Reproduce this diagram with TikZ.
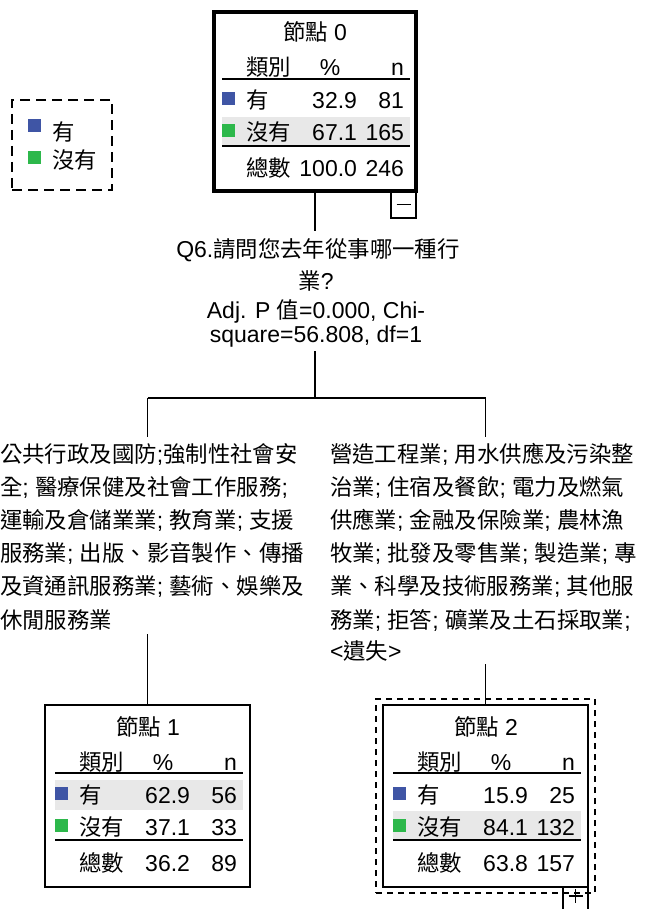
\documentclass[tikz,border=0pt]{standalone}
\usepackage{fontspec}
\usetikzlibrary{calc}
\setmainfont{Liberation Sans}
\newfontfamily\cjkfont{Noto Sans CJK TC}[Scale=0.974]
\newcommand\zh[1]{{\cjkfont #1}}
\definecolor{catblue}{RGB}{63,85,165}
\definecolor{catgreen}{RGB}{45,184,75}
\definecolor{hlgray}{RGB}{232,232,232}
\tikzset{
  txt/.style={font=\fontsize{23}{27}\selectfont, inner sep=0pt, outer sep=0pt},
  box/.style={draw, line width=1.6pt, inner sep=0pt, outer sep=0pt},
  nodebox/.style={box, minimum width=205pt, minimum height=182pt},
  rootbox/.style={box, line width=4pt, minimum width=202pt, minimum height=179pt},
  selbox/.style={draw, line width=1.3pt, dash pattern=on 6pt off 5pt, inner sep=0pt, minimum width=219pt, minimum height=194pt},
  legbox/.style={draw, line width=1.5pt, dash pattern=on 10pt off 6pt, inner sep=0pt, minimum width=100pt, minimum height=90pt},
  togbox/.style={box, minimum width=25pt, minimum height=27pt},
  conn/.style={line width=1.6pt},
  rule/.style={line width=1.6pt},
  sq/.style={inner sep=0pt, outer sep=0pt, minimum size=13pt},
}
\newcommand\settable[3]{\def\tL{#1}\def\tT{#2}\def\tid{#3}}
\newcommand\tablebody[6]{%
  \ifnum#2=1
    \fill[hlgray] ({\tL+10},{\tT+75}) rectangle ({\tL+198},{\tT+105});
  \else
    \fill[hlgray] ({\tL+10},{\tT+106}) rectangle ({\tL+198},{\tT+135});
  \fi
  \draw[rule] ({\tL+10},{\tT+68}) -- ({\tL+198},{\tT+68});
  \draw[rule] ({\tL+10},{\tT+135}) -- ({\tL+198},{\tT+135});
  \node[txt,anchor=base] (t\tid-title) at ({\tL+103},{\tT+30}) {#1};
  \node[txt,anchor=base west] (t\tid-hcat) at ({\tL+34},{\tT+65}) {\zh{類別}};
  \node[txt,anchor=base] (t\tid-hpct) at ({\tL+118},{\tT+65}) {\%};
  \node[txt,anchor=base east] (t\tid-hn) at ({\tL+192},{\tT+65}) {n};
  \node[sq,fill=catblue] (t\tid-sq1) at ({\tL+16},{\tT+88}) {};
  \node[txt,anchor=base west] (t\tid-c1) at ({\tL+34},{\tT+98}) {\zh{有}};
  \node[txt,anchor=base east] (t\tid-p1) at ({\tL+145},{\tT+98}) {#3};
  \node[txt,anchor=base east] (t\tid-n1) at ({\tL+192},{\tT+98}) {#4};
  \node[sq,fill=catgreen] (t\tid-sq2) at ({\tL+16},{\tT+120}) {};
  \node[txt,anchor=base west] (t\tid-c2) at ({\tL+34},{\tT+130}) {\zh{沒有}};
  \node[txt,anchor=base east] (t\tid-p2) at ({\tL+145},{\tT+130}) {#5};
  \node[txt,anchor=base east] (t\tid-n2) at ({\tL+192},{\tT+130}) {#6};
}
\newcommand\tabletotal[2]{%
  \node[txt,anchor=base west] (t\tid-ct) at ({\tL+34},{\tT+166}) {\zh{總數}};
  \node[txt,anchor=base east] (t\tid-pt) at ({\tL+145},{\tT+166}) {#1};
  \node[txt,anchor=base east] (t\tid-nt) at ({\tL+192},{\tT+166}) {#2};
}
\begin{document}
\begin{tikzpicture}[x=1pt,y=-1pt]
\useasboundingbox (0,0) rectangle (648,909);
\fill[white] (0,0) rectangle (648,909);
\clip (0,0) rectangle (648,909);

% legend
\node[legbox] (leg) at (62,145) {};
\node[sq,fill=catblue] (legsq1) at (34,126) {};
\node[txt,anchor=base west] (legt1) at (52,140.5) {\zh{有}};
\node[sq,fill=catgreen] (legsq2) at (34,158) {};
\node[txt,anchor=base west] (legt2) at (52,168.5) {\zh{沒有}};

% node 0
\settable{212}{11}{0}
\tablebody{\zh{節點} 0}{2}{32.9}{81}{67.1}{165}
\tabletotal{100.0}{246}
\node[rootbox] (n0) at (315,101.5) {};
\node[togbox,anchor=north east] (n0tog) at (416,191) {};
\draw[conn] ([xshift=-7pt]n0tog.center) -- ([xshift=7pt]n0tog.center);

% question
\node[txt,anchor=base] (q1) at (318,257) {Q6.\zh{請問您去年從事哪一種行}};
\node[txt,anchor=base] (q2) at (316,289) {\zh{業}?};
\node[txt,anchor=base] (q3) at (316,318) {Adj. P \zh{值}=0.000, Chi-};
\node[txt,anchor=base] (q4) at (316,342) {square=56.808, df=1};

% connectors
\coordinate (qtop) at (315,231);
\coordinate (qbot) at (315,351);
\coordinate (split) at (315,398);
\coordinate (lsplit) at (147.5,398);
\coordinate (rsplit) at (485.5,398);
\coordinate (ltop) at (147.5,437);
\coordinate (rtop) at (485.5,437);
\coordinate (lbot) at (147.5,634);
\coordinate (rbot) at (485.5,664);
\draw[conn] (n0.south) -- (qtop);
\draw[conn] (qbot) -- (split);
\draw[conn] (lsplit) -- (rsplit);
\draw[conn] (lsplit) -- (ltop);
\draw[conn] (rsplit) -- (rtop);

% left category text
\node[txt,anchor=base west] (l1) at (0,462) {\zh{公共行政及國防};\zh{強制性社會安}};
\node[txt,anchor=base west] (l2) at (0,495) {\zh{全}; \zh{醫療保健及社會工作服務};};
\node[txt,anchor=base west] (l3) at (0,528) {\zh{運輸及倉儲業業}; \zh{教育業}; \zh{支援}};
\node[txt,anchor=base west] (l4) at (0,561) {\zh{服務業}; \zh{出版、影音製作、傳播}};
\node[txt,anchor=base west] (l5) at (0,594) {\zh{及資通訊服務業}; \zh{藝術、娛樂及}};
\node[txt,anchor=base west] (l6) at (0,628) {\zh{休閒服務業}};

% right category text
\node[txt,anchor=base west] (r1) at (330,462) {\zh{營造工程業}; \zh{用水供應及污染整}};
\node[txt,anchor=base west] (r2) at (330,495) {\zh{治業}; \zh{住宿及餐飲}; \zh{電力及燃氣}};
\node[txt,anchor=base west] (r3) at (330,528) {\zh{供應業}; \zh{金融及保險業}; \zh{農林漁}};
\node[txt,anchor=base west] (r4) at (330,561) {\zh{牧業}; \zh{批發及零售業}; \zh{製造業}; \zh{專}};
\node[txt,anchor=base west] (r5) at (330,594) {\zh{業、科學及技術服務業}; \zh{其他服}};
\node[txt,anchor=base west] (r6) at (330,628) {\zh{務業}; \zh{拒答}; \zh{礦業及土石採取業};};
\node[txt,anchor=base west] (r7) at (330,659) {<\zh{遺失}>};

% node 1
\settable{45}{705}{1}
\tablebody{\zh{節點} 1}{1}{62.9}{56}{37.1}{33}
\tabletotal{36.2}{89}
\node[nodebox] (n1) at (147.5,796) {};

% node 2
\settable{383}{705}{2}
\tablebody{\zh{節點} 2}{2}{15.9}{25}{84.1}{132}
\tabletotal{63.8}{157}
\node[nodebox] (n2) at (485.5,796) {};
\node[selbox] (n2sel) at (485.5,796) {};
\node[togbox,anchor=north east] (n2tog) at (588,887) {};
\draw[conn] ($(n2tog.north)+(0,2)$) -- ($(n2tog.north)+(0,16)$);
\draw[conn] ($(n2tog.north)+(-7,9)$) -- ($(n2tog.north)+(7,9)$);

\draw[conn] (lbot) -- (n1.north);
\draw[conn] (rbot) -- (n2.north);
\end{tikzpicture}
\end{document}
